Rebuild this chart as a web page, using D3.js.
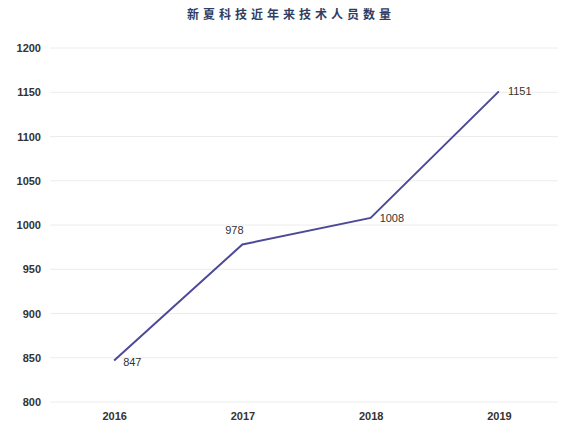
<!DOCTYPE html>
<html>
<head>
<meta charset="utf-8">
<script src="https://cdn.jsdelivr.net/npm/d3@7"></script>
<style>
  body { margin: 0; background: #fff; }
  .tick line { display: none; }
  .domain { display: none; }
</style>
</head>
<body>
<div id="wrapper"></div>
<script>
// data
const years = ['2016', '2017', '2018', '2019'];
const staff = [847, 978, 1008, 1151];
const yTicks = [800, 850, 900, 950, 1000, 1050, 1100, 1150, 1200];
const title = '新夏科技近年来技术人员数量';

function drawChart() {
    const width = 563;
    const height = 425;

    const wrapper = d3.select('#wrapper').append('svg')
        .attr('width', width)
        .attr('height', height);

    const xScale = d3.scalePoint()
        .domain(years)
        .range([50, 563])
        .padding(0.5);

    const yScale = d3.scaleLinear()
        .domain([800, 1200])
        .range([402, 48]);

    // grid
    wrapper.append('g')
        .selectAll('line')
        .data(yTicks)
        .join('line')
        .attr('x1', 50)
        .attr('x2', 558)
        .attr('y1', d => yScale(d))
        .attr('y2', d => yScale(d))
        .attr('stroke', '#ececec')
        .attr('stroke-width', 1);

    // y axis
    const yAxis = wrapper.append('g')
        .attr('transform', 'translate(47, 0)')
        .call(d3.axisLeft(yScale).tickValues(yTicks).tickFormat(d3.format('d')).tickSize(0).tickPadding(6));
    yAxis.selectAll('text')
        .attr('font-family', 'Liberation Sans, Arial, sans-serif')
        .attr('font-size', 11)
        .attr('font-weight', 'bold')
        .attr('fill', '#333');

    // x axis
    const xAxis = wrapper.append('g')
        .attr('transform', 'translate(0, 410)')
        .call(d3.axisBottom(xScale).tickSize(0).tickPadding(2));
    xAxis.selectAll('text')
        .attr('font-family', 'Liberation Sans, Arial, sans-serif')
        .attr('font-size', 11)
        .attr('font-weight', 'bold')
        .attr('fill', '#333');

    // line
    const lineGenerator = d3.line()
        .x((d, i) => xScale(years[i]))
        .y(d => yScale(d));

    wrapper.append('path')
        .attr('d', lineGenerator(staff))
        .attr('fill', 'none')
        .attr('stroke', '#4c4a96')
        .attr('stroke-width', 2);

    // value labels (2017 sits above, the rest to the right)
    wrapper.append('g')
        .selectAll('text')
        .data(staff)
        .join('text')
        .attr('x', (d, i) => xScale(years[i]) + (i === 1 ? -8 : 9))
        .attr('y', (d, i) => yScale(d) + (i === 1 ? -10 : (i === 0 ? 6 : 4)))
        .attr('text-anchor', (d, i) => i === 1 ? 'middle' : 'start')
        .attr('font-family', 'Liberation Sans, Arial, sans-serif')
        .attr('font-size', 11)
        .attr('fill', '#333')
        .text(d => d);

    // title
    wrapper.append('text')
        .attr('x', 291)
        .attr('y', 19)
        .attr('text-anchor', 'middle')
        .attr('font-family', 'Noto Sans CJK SC, sans-serif')
        .attr('font-size', 12)
        .attr('font-weight', 'bold')
        .attr('letter-spacing', 4)
        .attr('fill', '#2f3d63')
        .text(title);
}

drawChart();
</script>
</body>
</html>
